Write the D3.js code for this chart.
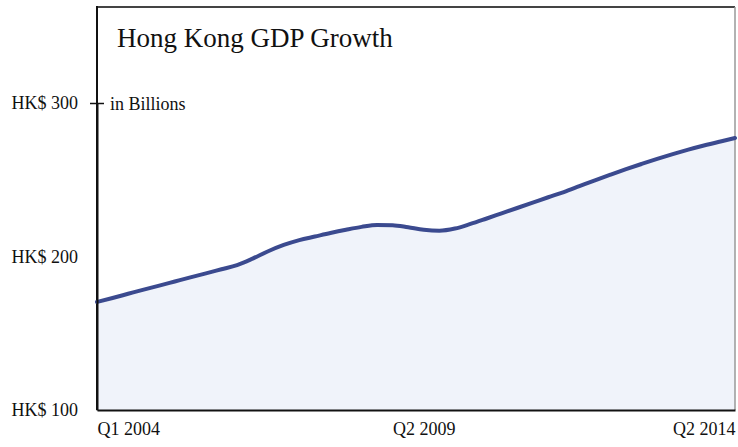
<!DOCTYPE html>
<html>
<head>
<meta charset="utf-8">
<script src="https://cdn.jsdelivr.net/npm/d3@7"></script>
<style>
  body { margin: 0; background: #fff; }
  svg text { font-family: "Liberation Serif", "Times New Roman", serif; fill: #111; }
</style>
</head>
<body>
<div id="chart"></div>
<script>
// quarterly GDP, HK$ billions, Q1 2004 .. Q2 2014
const quarters = [];
for (let y = 2004; y <= 2014; y++) {
    for (let q = 1; q <= 4; q++) {
        if (y === 2014 && q > 2) break;
        quarters.push("Q" + q + " " + y);
    }
}
const gdp = [
    170.4, 173.0, 175.7, 178.4, 181.0, 183.7, 186.4, 189.0, 191.7, 194.4,
    198.6, 203.4, 207.5, 210.7, 213.0, 215.3, 217.4, 219.3, 220.6, 220.4,
    219.0, 217.4, 216.8, 218.2, 221.2, 224.6, 228.1, 231.6, 235.1, 238.6,
    242.0, 245.8, 249.6, 253.3, 256.9, 260.3, 263.6, 266.7, 269.6, 272.3,
    274.8, 277.2
];
const yTicks = [100, 200, 300];
const xTickLabels = ["Q1 2004", "Q2 2009", "Q2 2014"];

function drawChart() {
    const width = 738, height = 447;
    const left = 97, right = 735, top = 7, bottom = 410;

    const svg = d3.select("#chart").append("svg")
        .attr("width", width)
        .attr("height", height);

    const xScale = d3.scaleLinear()
        .domain([0, quarters.length - 1])
        .range([left, right]);

    const yScale = d3.scaleLinear()
        .domain([100, 300])
        .range([bottom, 103]);

    const data = gdp.map((v, i) => ({ i: i, v: v }));

    // shaded area under the line
    const area = d3.area()
        .x(d => xScale(d.i))
        .y0(bottom)
        .y1(d => yScale(d.v))
        .curve(d3.curveMonotoneX);

    svg.append("path")
        .datum(data)
        .attr("d", area)
        .attr("fill", "#f0f3fa");

    // frame (top and right are lighter)
    svg.append("line")
        .attr("x1", left).attr("x2", right)
        .attr("y1", top).attr("y2", top)
        .attr("stroke", "#444").attr("stroke-width", 2);
    svg.append("line")
        .attr("x1", right).attr("x2", right)
        .attr("y1", top).attr("y2", bottom)
        .attr("stroke", "#999").attr("stroke-width", 1.5);
    svg.append("line")
        .attr("x1", left).attr("x2", left)
        .attr("y1", top - 1).attr("y2", bottom)
        .attr("stroke", "#111").attr("stroke-width", 2);

    const line = d3.line()
        .x(d => xScale(d.i))
        .y(d => yScale(d.v))
        .curve(d3.curveMonotoneX);

    svg.append("path")
        .datum(data)
        .attr("d", line)
        .attr("fill", "none")
        .attr("stroke", "#3b4a8f")
        .attr("stroke-width", 4)
        .attr("stroke-linejoin", "round")
        .attr("stroke-linecap", "round");

    // y axis
    const yAxis = d3.axisLeft(yScale)
        .tickValues(yTicks)
        .tickSize(0)
        .tickSizeOuter(0)
        .tickPadding(19)
        .tickFormat(d => "HK$ " + d);

    const gy = svg.append("g")
        .attr("transform", `translate(${left},0)`)
        .call(yAxis);
    gy.select(".domain").attr("stroke", "#111").attr("stroke-width", 2);
    gy.selectAll("text").attr("font-size", 18).attr("font-family", null);
    gy.selectAll(".tick").filter(d => d === 300)
        .append("line")
        .attr("x1", -7).attr("x2", 7)
        .attr("stroke", "#111").attr("stroke-width", 1.5);

    // x axis
    const xTickIdx = xTickLabels.map(l => quarters.indexOf(l));
    const xAxis = d3.axisBottom(xScale)
        .tickValues(xTickIdx)
        .tickSize(0)
        .tickSizeOuter(0)
        .tickPadding(12)
        .tickFormat(d => quarters[d]);

    const gx = svg.append("g")
        .attr("transform", `translate(0,${bottom})`)
        .call(xAxis);
    gx.select(".domain").attr("stroke", "#111").attr("stroke-width", 2);
    gx.selectAll("text")
        .attr("font-size", 18)
        .attr("font-family", null)
        .attr("text-anchor", (d, i) => i === 0 ? "start" : (i === xTickIdx.length - 1 ? "end" : "middle"));

    // title and unit
    svg.append("text")
        .attr("x", 117).attr("y", 47)
        .attr("font-size", 27)
        .text("Hong Kong GDP Growth");

    svg.append("text")
        .attr("x", 110).attr("y", 110)
        .attr("font-size", 18)
        .text("in Billions");
}

drawChart();
</script>
</body>
</html>
